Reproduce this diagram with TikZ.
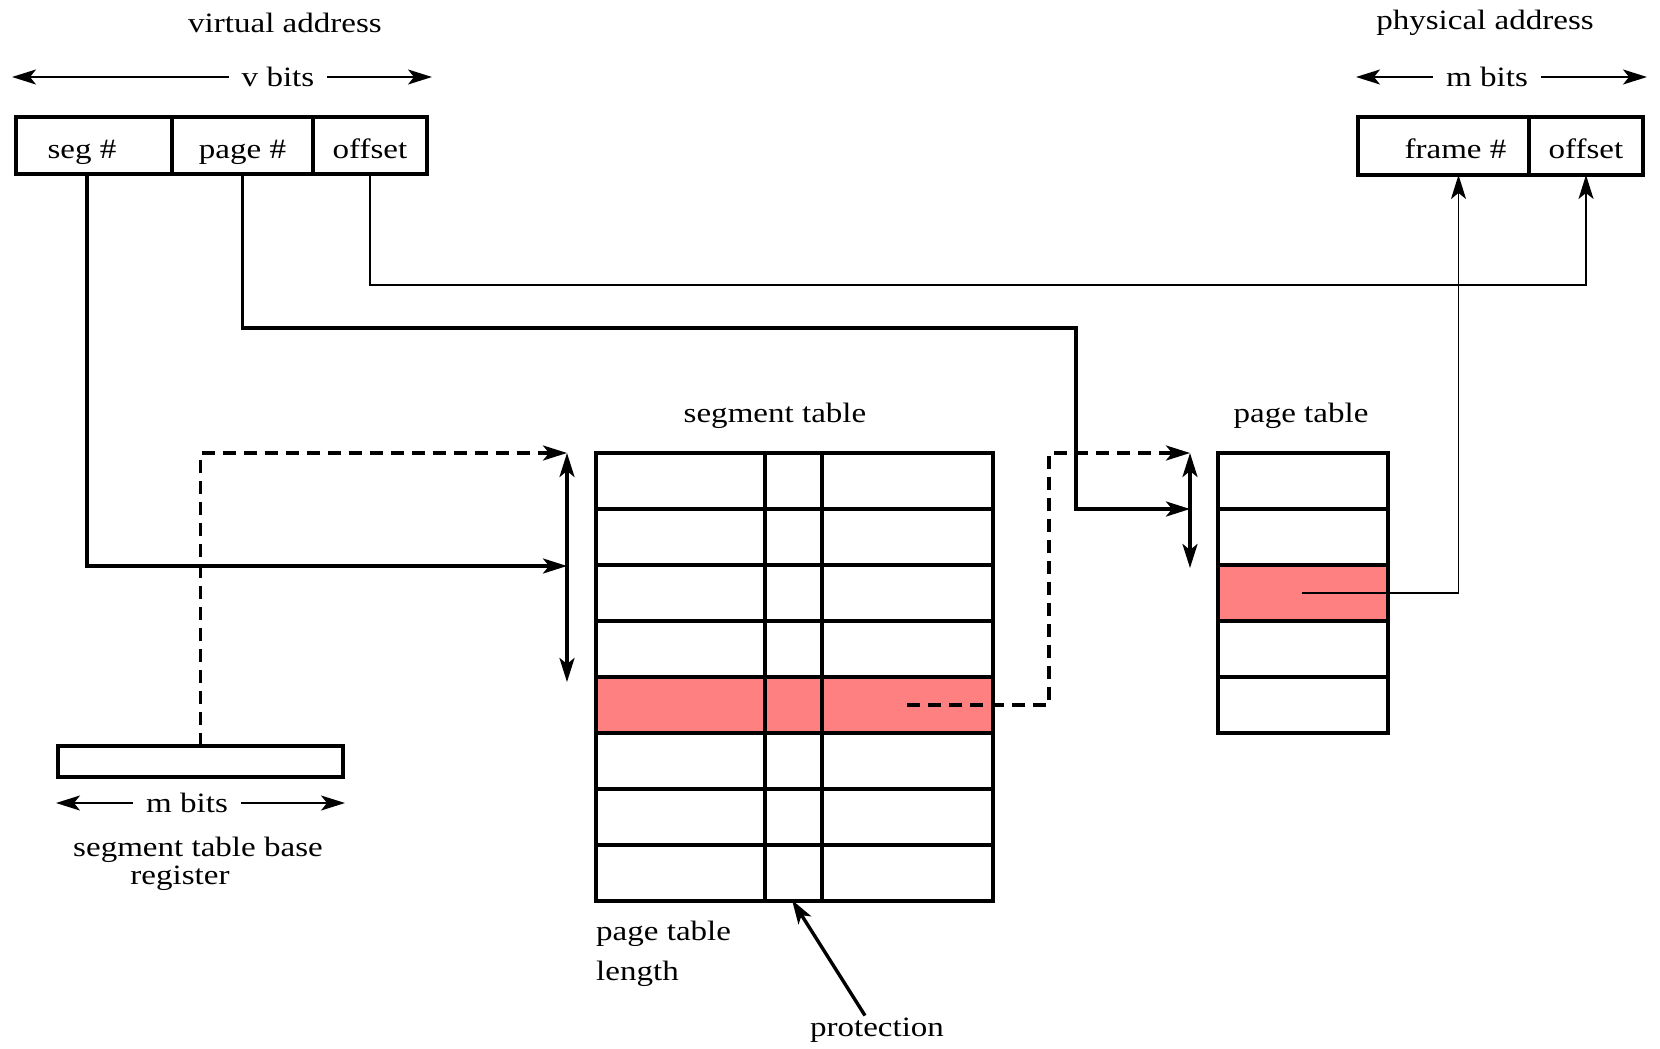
\documentclass[tikz,border=0pt]{standalone}
\usepackage{fontspec}
\setmainfont[FakeStretch=1.18]{Liberation Serif}
\usetikzlibrary{arrows.meta,calc}
\definecolor{selred}{HTML}{FF8080}
\begin{document}
\begin{tikzpicture}[x=1pt,y=-1pt,
  font=\fontsize{28}{28}\selectfont,
  >={Stealth[length=24pt,width=15pt,inset=6pt]},
  thickl/.style={line width=3.4pt},
  thinl/.style={line width=1.8pt},
  dashl/.style={line width=3.2pt,dash pattern=on 13pt off 8pt},
  box/.style={draw,line width=3.4pt,inner sep=0pt,outer sep=0pt,anchor=north west},
  cellfill/.style={fill=selred,draw=none,inner sep=0pt,outer sep=0pt,anchor=north west},
  lab/.style={text height=19pt,text depth=6pt,yshift=-6pt,inner sep=0pt},
  dim/.style={inner xsep=13pt,inner ysep=2pt},
  txt/.style={inner sep=2pt}]
\useasboundingbox (0,0) rectangle (1660,1049);

% ---- titles
\node[txt] (va) at (285,23) {virtual address};
\node[txt] (pa) at (1485,23) {physical address};

% ---- dimension arrows
\node[dim] (vbits) at (278,77) {v bits};
\coordinate (vl) at (12,77); \coordinate (vr) at (432,77);
\draw[thinl,->] (vbits.west) -- (vl);
\draw[thinl,->] (vbits.east) -- (vr);

\node[dim] (mbitsa) at (1487,77) {m bits};
\coordinate (mal) at (1356,77); \coordinate (mar) at (1647,77);
\draw[thinl,->] (mbitsa.west) -- (mal);
\draw[thinl,->] (mbitsa.east) -- (mar);

% ---- virtual address register
\node[box,minimum width=156pt,minimum height=57pt,label={[lab,xshift=-12pt]center:seg \#}] (seg) at (16,117) {};
\node[box,minimum width=141pt,minimum height=57pt,label={[lab]center:page \#}] (page) at (172,117) {};
\node[box,minimum width=114pt,minimum height=57pt,label={[lab]center:offset}] (offs) at (313,117) {};

% ---- physical address register
\node[box,minimum width=171pt,minimum height=58pt,label={[lab,xshift=12pt]center:frame \#}] (frame) at (1358,117) {};
\node[box,minimum width=114pt,minimum height=58pt,label={[lab]center:offset}] (poff) at (1529,117) {};

% ---- segment table
\node[txt] (stl) at (775,416) {segment table};
\node[cellfill,minimum width=397pt,minimum height=56pt] (segsel) at (596,677) {};
\node[box,minimum width=397pt,minimum height=448pt] (segtab) at (596,453) {};
\foreach \k in {1,...,7}
  \draw[thickl] ($(segtab.north west)+(0,\k*56)$) -- ++(397,0);
\draw[thickl] ($(segtab.north west)+(169,0)$) -- ++(0,448);
\draw[thickl] ($(segtab.north west)+(226,0)$) -- ++(0,448);

% ---- page table
\node[txt] (ptl) at (1301,416) {page table};
\node[cellfill,minimum width=170pt,minimum height=56pt] (ptsel) at (1218,565) {};
\node[box,minimum width=170pt,minimum height=280pt] (pagetab) at (1218,453) {};
\foreach \k in {1,...,4}
  \draw[thickl] ($(pagetab.north west)+(0,\k*56)$) -- ++(170,0);

% ---- segment table base register
\node[box,minimum width=285pt,minimum height=31pt] (stbr) at (58,746) {};
\node[dim] (mbitsb) at (187,803) {m bits};
\coordinate (mbl) at (56,803); \coordinate (mbr) at (345,803);
\draw[thinl,->] (mbitsb.west) -- (mbl);
\draw[thinl,->] (mbitsb.east) -- (mbr);
\node[txt,align=center,font=\fontsize{28}{28}\selectfont] (stbrl) at (198,864) {segment table base\\register\hspace*{36pt}};

% ---- lower labels
\node[inner sep=0pt,anchor=west,align=left,font=\fontsize{28}{40}\selectfont] (ptlen) at (596,954) {page table\\length};
\node[txt] (prot) at (877,1030) {protection};

% ---- connector coordinates
\coordinate (stTop) at (567,453);
\coordinate (stBot) at (567,682);
\coordinate (segin) at (567,566);
\coordinate (ptTop) at (1190,453);
\coordinate (ptBot) at (1190,568);
\coordinate (ptin) at (1190,509);
\coordinate (pbend) at (1076,328);
\coordinate (obend) at (1586,285);
\coordinate (dstart) at (907,705);
\coordinate (dcorner) at (1049,453);
\coordinate (fstart) at (1302,593);
\coordinate (protTip) at (792,900);

% ---- connectors
\draw[thickl,->] ([xshift=-7pt]seg.south) |- (segin);
\draw[thickl,->] (page.south) |- (pbend) |- (ptin);
\draw[thinl,->] (offs.south) -- (offs.south |- obend) -| (poff.south);
\draw[thinl,->] (fstart) -| ([xshift=15pt]frame.south);
\draw[dashl,->] (stbr.north) |- (stTop);
\draw[dashl,->] (dstart) -| (dcorner) -- (ptTop);
\draw[thickl,<->] (stTop) -- (stBot);
\draw[thickl,<->] (ptTop) -- (ptBot);
\draw[thickl,->] ([xshift=-12pt]prot.north) -- (protTip);
\end{tikzpicture}
\end{document}
